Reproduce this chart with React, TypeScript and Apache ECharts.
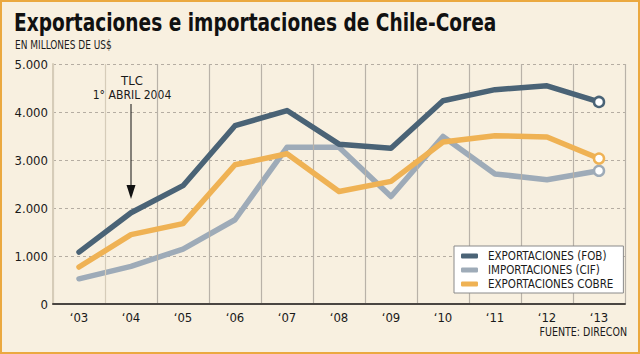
import { useEffect, useRef } from "react";
import * as echarts from "echarts";

const years = ["‘03", "‘04", "‘05", "‘06", "‘07", "‘08", "‘09", "‘10", "‘11", "‘12", "‘13"];
const exportFOB = [1080, 1900, 2465, 3715, 4030, 3330, 3245, 4235, 4465, 4545, 4210];
const importCIF = [525, 785, 1145, 1755, 3265, 3265, 2240, 3490, 2710, 2590, 2775];
const exportCobre = [770, 1445, 1675, 2900, 3130, 2345, 2555, 3375, 3505, 3480, 3030];
const seriesNames = ["EXPORTACIONES (FOB)", "IMPORTACIONES (CIF)", "EXPORTACIONES COBRE"];
const yMin = 0;
const yMax = 5000;
const yStep = 1000;
const annotationYear = "‘04";
const titleText = "Exportaciones e importaciones de Chile-Corea";
const subtitleText = "EN MILLONES DE US$";
const sourceText = "FUENTE: DIRECON";
const annotationLines = ["TLC", "1° ABRIL 2004"];

const COLORS = ["#4a6376", "#9eabb8", "#efb254"];
const FONT = "'DejaVu Sans Condensed', 'DejaVu Sans', sans-serif";

function makeSeries(name: string, values: number[], color: string, z: number) {
  const last = values.length - 1;
  return {
    name,
    type: "line",
    z,
    data: values.map((v, i) =>
      i === last
        ? { value: v, itemStyle: { color: "#ffffff", borderColor: color, borderWidth: 2.5 } }
        : v
    ),
    symbol: "circle",
    showAllSymbol: true,
    symbolSize: (_v: any, p: any) => (p.dataIndex === last ? 10 : 0),
    lineStyle: { color, width: 5.5, cap: "round", join: "round" },
    itemStyle: { color },
    emphasis: { disabled: true },
  };
}

export default function App() {
  const ref = useRef<HTMLDivElement>(null);
  useEffect(() => {
    document.body.style.margin = "0";
    const chart = echarts.init(ref.current!, null, { renderer: "svg" });
    const splitColors = years.map((_, i) => (i <= 1 ? "#d6ccb9" : "#b9b2a8"));
    splitColors.push("#b9b2a8");
    chart.setOption({
      animation: false,
      backgroundColor: "#f8f0e0",
      grid: { left: 53, top: 64, width: 572, height: 240, containLabel: false },
      legend: {
        data: seriesNames,
        orient: "vertical",
        left: 454,
        top: 246,
        icon: "roundRect",
        itemWidth: 17,
        itemHeight: 5,
        itemGap: 0,
        padding: [3, 10, 2, 7],
        backgroundColor: "#ffffff",
        borderColor: "#8a8a8a",
        borderWidth: 1,
        textStyle: { fontFamily: FONT, fontSize: 11.5, color: "#1a1a1a", lineHeight: 14, padding: [0, 0, 0, 5] },
      },
      xAxis: {
        type: "category",
        data: years,
        boundaryGap: true,
        axisLine: { lineStyle: { color: "#4a4642", width: 2 } },
        axisTick: { show: false },
        axisLabel: { fontFamily: FONT, fontSize: 13, color: "#1a1a1a", margin: 7 },
        splitLine: { show: true, lineStyle: { color: splitColors, width: 1.2 } },
        z: 3,
      },
      yAxis: {
        type: "value",
        min: yMin,
        max: yMax,
        interval: yStep,
        axisLine: { show: true, lineStyle: { color: "#d6ccb9", width: 2 } },
        axisTick: { show: false },
        axisLabel: {
          fontFamily: FONT,
          fontSize: 13,
          color: "#1a1a1a",
          margin: 5,
          formatter: (v: number) => (v >= 1000 ? Math.floor(v / 1000) + "." + String(v % 1000).padStart(3, "0") : String(v)),
        },
        splitLine: { show: true, lineStyle: { color: "#b5ada2", type: [3, 3], width: 1 } },
      },
      series: [
        makeSeries(seriesNames[1], importCIF, COLORS[1], 2),
        makeSeries(seriesNames[2], exportCobre, COLORS[2], 3),
        makeSeries(seriesNames[0], exportFOB, COLORS[0], 4),
      ],
    });

    const ax = chart.convertToPixel({ xAxisIndex: 0 }, annotationYear) as number;
    chart.setOption({
      graphic: [
        {
          type: "rect",
          shape: { x: 1, y: 1, width: 638, height: 352 },
          style: { fill: "none", stroke: "#eba940", lineWidth: 2 },
          z: 100,
        },
        {
          type: "text",
          x: 14,
          y: 10,
          scaleX: 0.86,
          style: { text: titleText, font: `bold 24px ${FONT}`, fill: "#111111" },
        },
        {
          type: "text",
          x: 15,
          y: 39,
          scaleX: 0.8,
          style: { text: subtitleText, font: `12.5px ${FONT}`, fill: "#1a1a1a" },
        },
        {
          type: "text",
          x: ax + 1,
          y: 74,
          style: { text: annotationLines[0], font: `13px ${FONT}`, fill: "#1a1a1a", align: "center" },
        },
        {
          type: "text",
          x: ax + 1,
          y: 88,
          scaleX: 0.93,
          style: { text: annotationLines[1], font: `13px ${FONT}`, fill: "#1a1a1a", align: "center" },
        },
        {
          type: "line",
          shape: { x1: ax, y1: 104, x2: ax, y2: 188 },
          style: { stroke: "#111111", lineWidth: 1 },
        },
        {
          type: "polygon",
          shape: { points: [[ax - 4.5, 185], [ax + 4.5, 185], [ax, 199]] },
          style: { fill: "#111111" },
        },
        {
          type: "text",
          x: 627,
          y: 326,
          scaleX: 0.88,
          style: { text: sourceText, font: `12px ${FONT}`, fill: "#1a1a1a", align: "right" },
        },
      ],
    });
    return () => chart.dispose();
  }, []);
  return <div ref={ref} style={{ width: 640, height: 354 }} />;
}
